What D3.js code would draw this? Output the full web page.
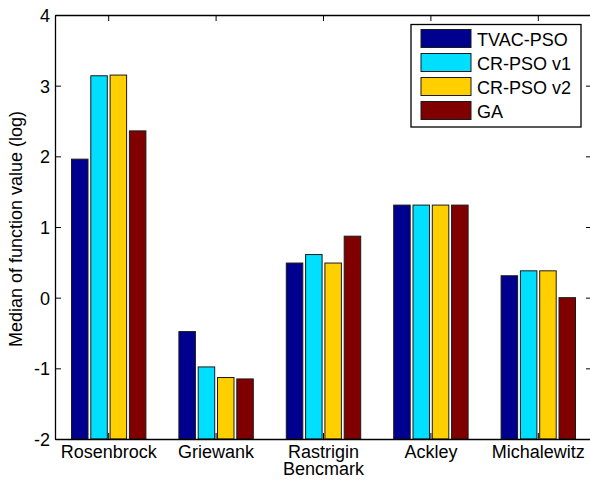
<!DOCTYPE html>
<html><head><meta charset="utf-8">
<script src="https://cdn.jsdelivr.net/npm/d3@7"></script>
<style>
html,body{margin:0;padding:0;background:#fff;}
svg text{font-family:"Liberation Sans",Arial,sans-serif;fill:#000;}
</style></head>
<body>
<svg id="c" width="590" height="486"></svg>
<script>
const categories = ["Rosenbrock","Griewank","Rastrigin","Ackley","Michalewitz"];
const seriesNames = ["TVAC-PSO","CR-PSO v1","CR-PSO v2","GA"];
const tvacPso = [1.96, -0.48, 0.49, 1.31, 0.31];
const crPsoV1 = [3.14, -0.98, 0.61, 1.31, 0.38];
const crPsoV2 = [3.15, -1.13, 0.49, 1.31, 0.38];
const ga      = [2.36, -1.15, 0.87, 1.31, 0.00];
const seriesColors = ["#00008F","#00DFFF","#FFCF00","#800000"];
const yTicks = [-2,-1,0,1,2,3,4];
const xLabel = "Bencmark";
const yLabel = "Median of function value (log)";

const seriesValues = [tvacPso, crPsoV1, crPsoV2, ga];

const svg = d3.select("#c");
const L = 55, R = 592, T = 15, B = 439;
const x = d3.scaleBand().domain(categories).range([L, R]).paddingInner(0).paddingOuter(0);
const y = d3.scaleLinear().domain([-2, 4]).range([B, T]);
const inner = d3.scaleBand().domain(seriesNames).range([-38.6, 38.6]).paddingInner(0.145).paddingOuter(0.0725);

// bars
const data = [];
categories.forEach((c, i) => seriesNames.forEach((s, j) => data.push({c, s, j, v: seriesValues[j][i]})));
svg.append("g").selectAll("rect").data(data).join("rect")
  .attr("x", d => x(d.c) + x.bandwidth()/2 + inner(d.s))
  .attr("width", inner.bandwidth())
  .attr("y", d => y(d.v))
  .attr("height", d => y(-2) - y(d.v))
  .attr("fill", d => seriesColors[d.j])
  .attr("stroke", "#1a1a1a").attr("stroke-width", 1);

// axes
const tickLen = 6;
const axL = svg.append("g").attr("transform", `translate(${L},0)`)
  .call(d3.axisLeft(y).tickValues(yTicks).tickSizeInner(-tickLen).tickSizeOuter(0).tickPadding(5).tickFormat(d => String(d)));
const axR = svg.append("g").attr("transform", `translate(${R},0)`)
  .call(d3.axisRight(y).tickValues(yTicks).tickSizeInner(-tickLen).tickSizeOuter(0).tickFormat(""));
const axB = svg.append("g").attr("transform", `translate(0,${B})`)
  .call(d3.axisBottom(x).tickSizeInner(-tickLen).tickSizeOuter(0).tickPadding(6));
const axT = svg.append("g").attr("transform", `translate(0,${T})`)
  .call(d3.axisTop(x).tickSizeInner(-tickLen).tickSizeOuter(0).tickFormat(""));
[axL, axR, axB, axT].forEach(a => {
  a.selectAll("path").attr("stroke", "#000").attr("stroke-width", 1.3);
  a.selectAll("line").attr("stroke", "#000");
  a.selectAll("text").style("font-size", "18px").attr("fill", "#000");
});
axL.selectAll(".tick text").attr("dy", "0.36em");
axB.selectAll(".tick text").attr("dy", "0.71em");

// axis labels
svg.append("text").attr("x", (L + R)/2).attr("y", 475).attr("text-anchor", "middle")
  .style("font-size", "18px").text(xLabel);
svg.append("text").attr("transform", `translate(22,${229}) rotate(-90)`).attr("text-anchor", "middle")
  .style("font-size", "18px").text(yLabel);

// legend
const lg = svg.append("g");
lg.append("rect").attr("x", 411).attr("y", 24.5).attr("width", 170).attr("height", 102.5)
  .attr("fill", "#fff").attr("stroke", "#000").attr("stroke-width", 1.3);
seriesNames.forEach((s, j) => {
  lg.append("rect").attr("x", 421).attr("y", 29.5 + j*24).attr("width", 50).attr("height", 18)
    .attr("fill", seriesColors[j]).attr("stroke", "#1a1a1a").attr("stroke-width", 1);
  lg.append("text").attr("x", 477).attr("y", 45.5 + j*24).style("font-size", "18px").text(s);
});
</script>
</body></html>
